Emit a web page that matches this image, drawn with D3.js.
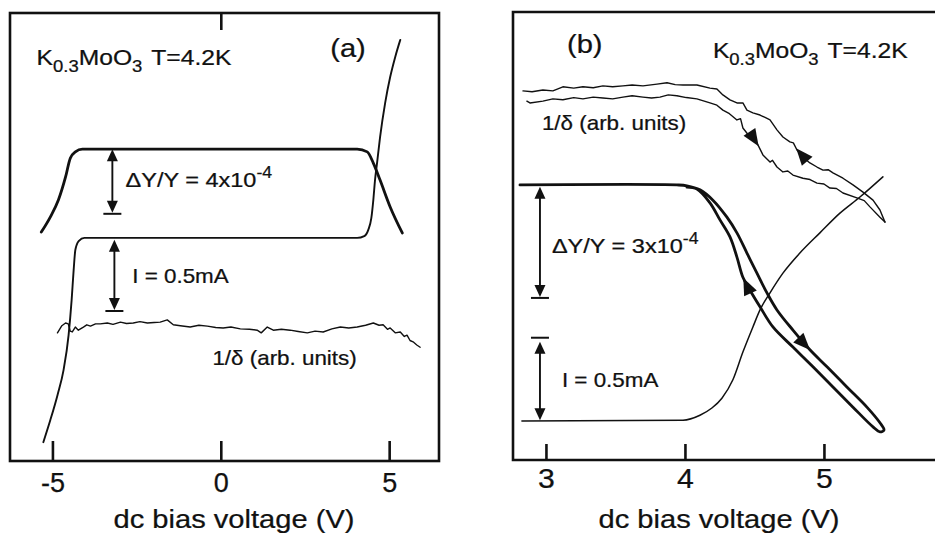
<!DOCTYPE html>
<html>
<head>
<meta charset="utf-8">
<script src="https://cdn.jsdelivr.net/npm/d3@7"></script>
<style>
  body { margin: 0; background: #fff; }
  svg { display: block; }
  text { font-family: "Liberation Sans", Arial, Helvetica, sans-serif; fill: #111; stroke: #111; stroke-width: 0.25; }
</style>
</head>
<body>
<div id="chart"></div>
<script>
// ---- panel (a) : bias voltage (V) vs arbitrary units (0..100) ----
var aTicks = [-5, 0, 5];
// elastic modulus change (thick)
var aModulus = [[-5.33,51.1],[-5.06,54.5],[-4.82,58.3],[-4.61,63.4],[-4.47,67.6],[-4.32,69.0],
  [-4.11,69.6],[4.05,69.6],[4.35,69.0],[4.53,66.5],[4.73,62.7],[5.03,56.7],[5.39,50.9]];
// I-V curve
var aCurrent = [[-5.27,4.2],[-5.06,9.2],[-4.85,14.7],[-4.67,20.3],[-4.52,28.1],[-4.43,35.9],
  [-4.37,42.6],[-4.32,47.1],[-4.22,49.1],[-4.05,49.8],[4.05,49.8],[4.26,50.2],[4.38,51.6],
  [4.47,54.2],[4.53,58.3],[4.58,62.7],[4.64,66.5],[4.73,72.3],[4.88,79.9],[5.03,85.7],
  [5.18,90.2],[5.33,94.0]];
// 1/delta (noisy)
var aInvDelta = [[-4.85,28.6],[-4.72,30.2],[-4.61,30.8],[-4.53,30.6],[-4.47,29.0],[-4.41,28.8],
  [-4.32,29.9],[-4.23,29.2],[-4.08,29.9],[-3.98,30.4],[-3.87,30.1],[-3.72,30.6],[-3.58,30.6],
  [-3.37,30.8],[-3.20,30.5],[-2.98,31.0],[-2.80,30.7],[-2.60,30.8],[-2.40,31.1],[-2.18,30.8],
  [-1.98,30.9],[-1.80,31.0],[-1.59,31.5],[-1.41,30.4],[-1.20,30.2],[-0.91,29.9],[-0.65,30.3],
  [-0.40,30.1],[-0.15,29.8],[0.07,29.7],[0.30,29.9],[0.58,29.5],[0.85,29.4],[1.08,29.2],
  [1.20,28.6],[1.38,29.9],[1.56,29.2],[1.80,29.4],[2.06,29.2],[2.30,28.9],[2.57,28.6],
  [2.80,29.0],[3.04,28.8],[3.30,29.5],[3.55,29.9],[3.80,29.7],[4.05,29.9],[4.30,30.3],
  [4.53,30.8],[4.70,30.3],[4.82,30.4],[4.95,29.4],[5.03,29.7],[5.18,28.6],[5.33,28.8],
  [5.45,27.8],[5.53,28.1],[5.62,26.9],[5.71,26.6],[5.82,25.9],[5.92,25.4]];

// ---- panel (b) ----
var bTicks = [3, 4, 5];
// elastic modulus, sweep up (outer line) and sweep down (inner line)
var bModulusUp = [[2.813,61.4],[3.942,61.4],[4.014,61.2],[4.108,60.3],[4.201,58.0],[4.302,54.2],
  [4.374,50.7],[4.446,46.2],[4.518,41.7],[4.590,37.3],[4.662,33.5],[4.777,29.0],[4.899,24.6],
  [5.022,20.8],[5.165,16.3],[5.309,11.8],[5.403,8.3],[5.432,6.7]];
var bModulusDown = [[4.014,60.9],[4.086,60.5],[4.180,57.4],[4.252,53.6],[4.324,49.8],[4.374,45.3],
  [4.417,40.8],[4.468,37.9],[4.540,34.2],[4.633,29.7],[4.777,25.2],[4.921,20.8],[5.065,16.3],
  [5.209,11.8],[5.353,7.4],[5.403,6.3]];
// I-V curve
var bCurrent = [[2.827,8.7],[3.986,8.9],[4.108,10.0],[4.194,11.6],[4.266,13.8],[4.345,17.9],
  [4.417,24.1],[4.489,29.7],[4.540,33.5],[4.612,37.3],[4.705,41.7],[4.827,46.2],[4.971,50.7],
  [5.115,55.1],[5.259,58.7],[5.424,63.2]];
// 1/delta, sweep up (lower) and sweep down (upper)
var bInvDeltaUp = [[2.863,80.1],[2.885,79.7],[2.978,80.1],[3.05,80.6],[3.122,80.4],[3.20,80.9],
  [3.266,80.6],[3.34,81.0],[3.410,80.8],[3.48,80.6],[3.554,81.0],[3.62,81.3],[3.698,81.0],
  [3.76,80.8],[3.820,81.0],[3.88,81.5],[3.942,81.3],[4.01,80.9],[4.086,80.6],[4.180,79.7],
  [4.23,79.2],[4.273,78.1],[4.32,77.3],[4.374,75.9],[4.40,76.2],[4.417,74.1],[4.468,72.1],
  [4.49,72.4],[4.518,70.8],[4.561,68.1],[4.612,66.5],[4.63,66.9],[4.662,65.4],[4.705,64.3],
  [4.74,64.5],[4.777,63.6],[4.849,62.9],[4.90,62.6],[4.950,61.8],[5.00,61.6],[5.043,60.7],
  [5.09,60.6],[5.137,59.6],[5.237,58.5],[5.29,57.9],[5.331,56.5],[5.403,54.2],[5.439,53.1]];
var bInvDeltaDown = [[2.835,82.4],[2.90,82.2],[2.978,82.6],[3.05,82.4],[3.122,83.3],[3.20,83.0],
  [3.266,83.3],[3.34,83.1],[3.410,83.5],[3.48,83.3],[3.554,83.5],[3.62,83.7],[3.698,83.5],
  [3.799,83.9],[3.871,84.2],[3.93,83.8],[3.986,83.7],[4.086,83.7],[4.180,83.0],[4.230,82.8],
  [4.273,81.5],[4.324,80.4],[4.374,79.7],[4.417,79.7],[4.446,78.1],[4.489,77.5],[4.540,77.0],
  [4.58,76.4],[4.612,75.9],[4.662,73.7],[4.705,72.1],[4.755,71.0],[4.78,70.8],[4.806,69.2],
  [4.849,67.6],[4.899,66.3],[4.950,65.4],[4.993,64.7],[5.03,64.8],[5.065,64.1],[5.137,62.9],
  [5.209,61.4],[5.281,59.8],[5.353,58.0],[5.403,55.8],[5.439,53.1]];

var W = 935, H = 535, SX = 1.12;

var svg = d3.select("#chart").append("svg")
  .attr("width", W).attr("height", H);

var xa = d3.scaleLinear().domain([-6.26, 6.48]).range([10, 439]);
var ya = d3.scaleLinear().domain([0, 100]).range([461, 13]);
var xb = d3.scaleLinear().domain([2.763, 5.799]).range([513, 935]);
var yb = d3.scaleLinear().domain([0, 100]).range([460, 12]);

// text with sub/superscript parts: [string, "n"|"sub"|"sup", dx]
function addText(g, px, py, parts, size, anchor) {
  var t = g.append("text")
    .attr("transform", "translate(" + px + "," + py + ") scale(" + SX + ",1)")
    .attr("font-size", size)
    .attr("text-anchor", anchor || "start");
  var shift = 0;
  parts.forEach(function(p) {
    var target = p[1] == "sub" ? size * 0.3 : p[1] == "sup" ? -size * 0.42 : 0;
    t.append("tspan")
      .attr("dy", target - shift)
      .attr("dx", p[2] || 0)
      .attr("font-size", p[1] == "n" ? size : size * 0.75)
      .text(p[0]);
    shift = target;
  });
  return t;
}

function arrowHead(g, px, py, angle, len, wid) {
  g.append("path")
    .attr("d", "M0,0L" + (-len) + "," + (-wid) + "L" + (-len) + "," + wid + "Z")
    .attr("transform", "translate(" + px + "," + py + ") rotate(" + angle + ")")
    .attr("fill", "#111");
}

// arrowhead placed on a curve at data x, pointing forward (dir=1) or backward (dir=-1)
function curveArrow(g, data, xs, ys, xv, dir) {
  var i = 1;
  while (i < data.length - 1 && data[i][0] < xv) i++;
  var p0 = data[Math.max(0, i - 2)], p1 = data[Math.min(data.length - 1, i + 1)];
  var q0 = data[i - 1], q1 = data[i];
  var t = (xv - q0[0]) / (q1[0] - q0[0]);
  var px = xs(q0[0] + t * (q1[0] - q0[0])), py = ys(q0[1] + t * (q1[1] - q0[1]));
  var a = Math.atan2(ys(p1[1]) - ys(p0[1]), xs(p1[0]) - xs(p0[0])) * 180 / Math.PI;
  if (dir < 0) a += 180;
  arrowHead(g, px, py, a, 17, 7);
}

// vertical double arrow with a bar at one end
function scaleArrow(g, xs, ys, xv, yTop, yBot, barAt) {
  var px = xs(xv), p1 = ys(yTop), p2 = ys(yBot);
  g.append("line").attr("x1", px).attr("x2", px).attr("y1", p1 + 5).attr("y2", p2 - 5)
    .attr("stroke", "#111").attr("stroke-width", 1.9);
  arrowHead(g, px, p1, -90, 12, 5.5);
  arrowHead(g, px, p2, 90, 12, 5.5);
  var by = barAt == "top" ? p1 - 4 : p2 + 1;
  g.append("line").attr("x1", px - 9).attr("x2", px + 9).attr("y1", by).attr("y2", by)
    .attr("stroke", "#111").attr("stroke-width", 2);
}

function drawLine(g, data, xs, ys, w, curve) {
  g.append("path").datum(data)
    .attr("d", d3.line().curve(curve || d3.curveLinear)
      .x(function(d) { return xs(d[0]); }).y(function(d) { return ys(d[1]); }))
    .attr("fill", "none").attr("stroke", "#111").attr("stroke-width", w)
    .attr("stroke-linejoin", "round").attr("stroke-linecap", "round");
}

function styleAxis(g, pad) {
  g.select(".domain").remove();
  g.selectAll("line").attr("stroke", "#111").attr("stroke-width", 2.6);
  g.selectAll("text").attr("font-size", 27).attr("font-family", null).attr("fill", "#111")
    .attr("y", pad).attr("dy", "0").attr("transform", "scale(" + SX + ",1)");
}

// ===== panel (a) =====
var ga = svg.append("g");

ga.append("rect")
  .attr("x", xa.range()[0]).attr("y", ya.range()[1])
  .attr("width", xa.range()[1] - xa.range()[0]).attr("height", ya.range()[0] - ya.range()[1])
  .attr("fill", "none").attr("stroke", "#111").attr("stroke-width", 2.6);

var axA = ga.append("g").attr("transform", "translate(0," + ya.range()[0] + ")")
  .call(d3.axisBottom(xa).tickValues(aTicks).tickSize(-20).tickSizeOuter(0)
    .tickFormat(function(d) { return String(d); }));
styleAxis(axA, 31);
axA.selectAll(".tick text").attr("transform", null);

var axAtop = ga.append("g").attr("transform", "translate(0," + ya.range()[1] + ")")
  .call(d3.axisTop(xa).tickValues([0]).tickSize(-17).tickSizeOuter(0).tickFormat(""));
styleAxis(axAtop, 0);

drawLine(ga, aModulus, xa, ya, 2.8, d3.curveMonotoneX);
drawLine(ga, aCurrent, xa, ya, 1.9, d3.curveMonotoneX);
drawLine(ga, aInvDelta, xa, ya, 1.4);

scaleArrow(ga, xa, ya, -3.22, 69.6, 55.4, "bottom");
scaleArrow(ga, xa, ya, -3.16, 49.4, 33.7, "bottom");

addText(ga, xa(-5.47), ya(88.4), [["K","n"],["0.3","sub"],["MoO","n"],["3","sub"],["T=4.2K","n",8]], 22);
addText(ga, xa(3.25), ya(90.2), [["(a)","n"]], 26);
addText(ga, xa(-2.83), ya(61.2), [["\u0394Y/Y = 4x10","n"],["-4","sup"]], 21);
addText(ga, xa(-2.63), ya(39.7), [["I = 0.5mA","n"]], 20);
addText(ga, xa(-0.25), ya(21.4), [["1/\u03b4 (arb. units)","n"]], 20);
addText(ga, 234, 528, [["dc bias voltage (V)","n"]], 26, "middle");

// ===== panel (b) =====
var gb = svg.append("g");

gb.append("path")
  .attr("d", "M" + xb.range()[1] + "," + yb.range()[1] + "H" + xb.range()[0] +
    "V" + yb.range()[0] + "H" + xb.range()[1])
  .attr("fill", "none").attr("stroke", "#111").attr("stroke-width", 2.6);

var axB = gb.append("g").attr("transform", "translate(0," + yb.range()[0] + ")")
  .call(d3.axisBottom(xb).tickValues(bTicks).tickSize(-16).tickSizeOuter(0)
    .tickFormat(function(d) { return String(d); }));
styleAxis(axB, 28);

drawLine(gb, bModulusUp.concat(bModulusDown.slice().reverse()), xb, yb, 2.8, d3.curveCatmullRom);
drawLine(gb, bCurrent, xb, yb, 1.5, d3.curveMonotoneX);
drawLine(gb, bInvDeltaUp, xb, yb, 1.4);
drawLine(gb, bInvDeltaDown, xb, yb, 1.4);

curveArrow(gb, bModulusUp, xb, yb, 4.90, 1);
curveArrow(gb, bModulusDown, xb, yb, 4.42, -1);
curveArrow(gb, bInvDeltaUp, xb, yb, 4.53, 1);
curveArrow(gb, bInvDeltaDown, xb, yb, 4.80, -1);

scaleArrow(gb, xb, yb, 2.957, 61.0, 36.4, "bottom");
scaleArrow(gb, xb, yb, 2.957, 26.4, 8.9, "top");

addText(gb, xb(3.151), yb(90.8), [["(b)","n"]], 26);
addText(gb, xb(4.201), yb(89.7), [["K","n"],["0.3","sub"],["MoO","n"],["3","sub"],["T=4.2K","n",8]], 22);
addText(gb, xb(2.971), yb(73.7), [["1/\u03b4 (arb. units)","n"]], 20);
addText(gb, xb(3.043), yb(46.2), [["\u0394Y/Y = 3x10","n"],["-4","sup"]], 21);
addText(gb, xb(3.115), yb(16.3), [["I = 0.5mA","n"]], 20);
addText(gb, 719, 528, [["dc bias voltage (V)","n"]], 26, "middle");
</script>
</body>
</html>
